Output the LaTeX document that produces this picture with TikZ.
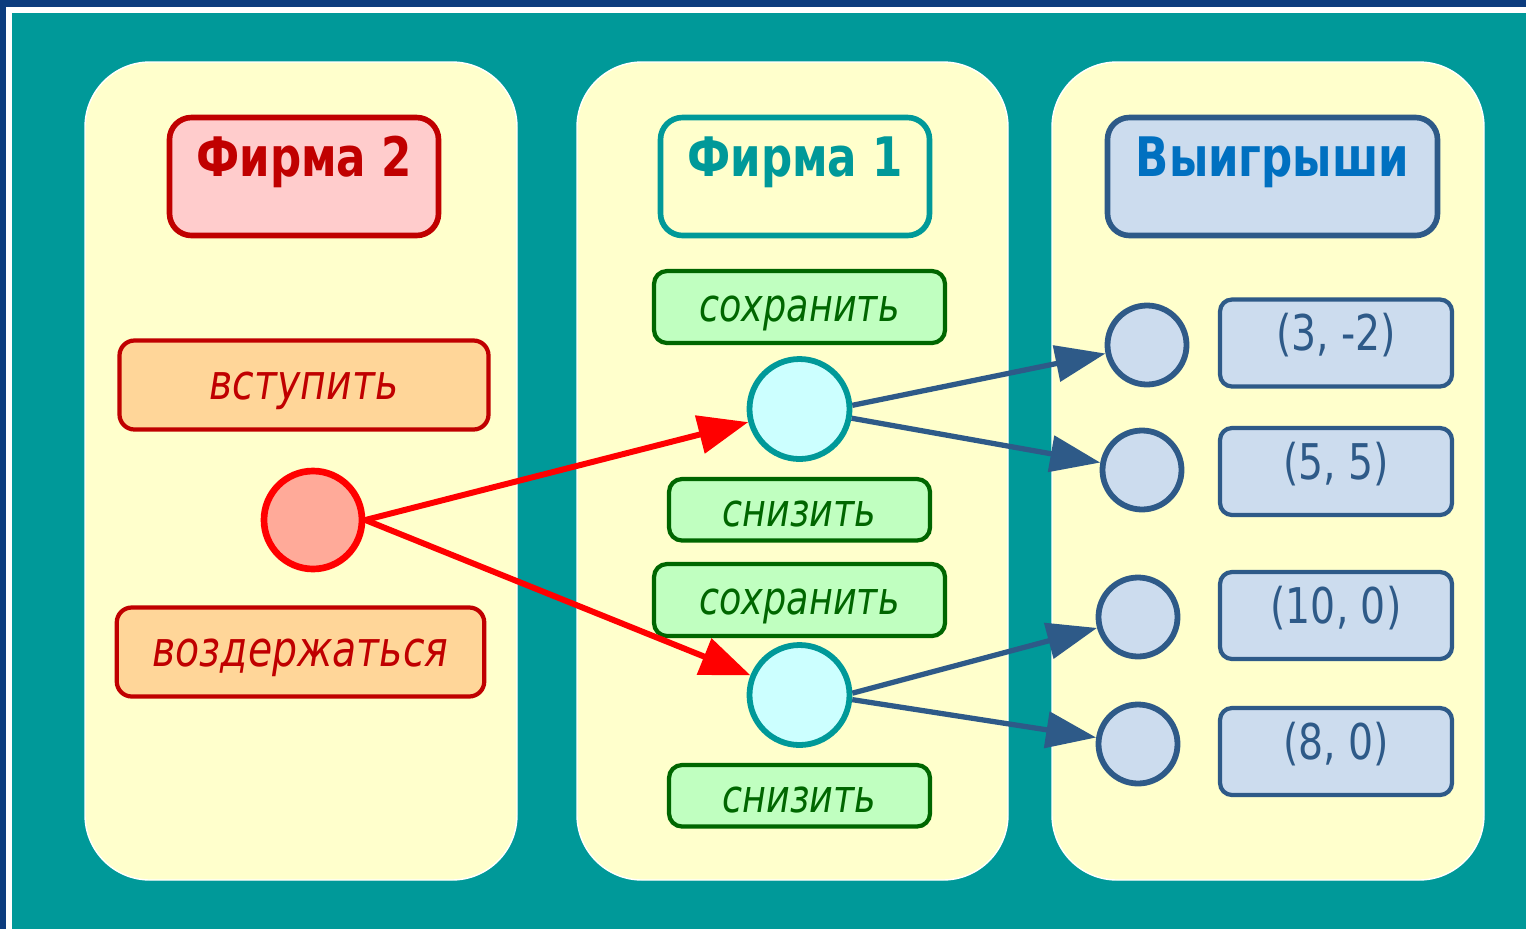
\documentclass[tikz,border=0pt]{standalone}
\usepackage{fontspec}
\setmainfont{DejaVu Sans}[FakeStretch=0.8]
\usetikzlibrary{positioning, arrows.meta}

\definecolor{navy}{HTML}{0C3C7E}
\definecolor{sea}{HTML}{009999}
\definecolor{cream}{HTML}{FFFFCC}
\definecolor{brick}{HTML}{C00000}
\definecolor{rose}{HTML}{FFCCCC}
\definecolor{apricot}{HTML}{FFD699}
\definecolor{salmon}{HTML}{FFAA99}
\definecolor{mint}{HTML}{C0FFC0}
\definecolor{forest}{HTML}{006600}
\definecolor{ice}{HTML}{CCFFFF}
\definecolor{steel}{HTML}{2E5A88}
\definecolor{mist}{HTML}{CCDCEE}
\definecolor{azure}{HTML}{0070C0}

\begin{document}
\begin{tikzpicture}[x=0.2mm, y=-0.2mm]
    \tikzset{
      panel/.style={fill=cream, draw=white, line width=0.8pt, rounded corners=13mm},
      title/.style={draw, rectangle, rounded corners=4.4mm, line width=3.2pt,
        minimum width=53.8mm, minimum height=23.6mm, inner sep=0pt,
        text height=0pt, text depth=0pt, font=\bfseries\fontsize{31}{34}\selectfont},
      rival/.style={draw=brick, fill=apricot, text=brick, rectangle, rounded corners=3mm,
        line width=2.4pt, minimum width=73.8mm, minimum height=17.8mm, inner sep=0pt,
        text height=5.6mm, text depth=0pt, font=\itshape\fontsize{28}{32}\selectfont},
      choice/.style={draw=forest, fill=mint, text=forest, rectangle, rounded corners=2.6mm,
        line width=2.4pt, minimum width=58.2mm, minimum height=14.4mm, inner sep=0pt,
        text height=5.6mm, text depth=0pt, font=\itshape\fontsize{26}{30}\selectfont},
      lower/.style={choice, minimum width=52.2mm, minimum height=12.3mm, text height=6.8mm},
      payoff/.style={draw=steel, fill=mist, text=steel, rectangle, rounded corners=2.4mm,
        line width=2.4pt, minimum width=46.4mm, minimum height=17.4mm, inner sep=0pt,
        text height=3mm, text depth=0pt, font=\fontsize{28}{32}\selectfont},
      root/.style={draw=red, fill=salmon, circle, line width=3.8pt, minimum size=19.6mm, inner sep=0pt},
      hub/.style={draw=sea, fill=ice, circle, line width=3.3pt, minimum size=20mm, inner sep=0pt},
      outcome/.style={draw=steel, fill=mist, circle, line width=3.3pt, minimum size=15.8mm, inner sep=0pt},
      entry/.style={draw=red, line width=3.4pt, -{Triangle[length=10mm, width=7.6mm]}},
      reply/.style={draw=steel, line width=3pt, -{Triangle[length=10mm, width=7.2mm]}}
    }
    \useasboundingbox (0,0) rectangle (1526,929);

    % backdrop and the three columns
    \fill[navy] (0,0) rectangle (1526,929);
    \fill[white] (6,7) rectangle (1526,929);
    \fill[sea] (12,13) rectangle (1526,929);
    \draw[panel] (85,62) rectangle (517,880);
    \draw[panel] (577,62) rectangle (1008,880);
    \draw[panel] (1052,62) rectangle (1484,880);

    % column headings
    \node[title, draw=brick, fill=rose, text=brick] (firm2) at (304,176.5) {Фирма 2};
    \node[title, draw=sea, fill=cream, text=sea]    (firm1) at (795,176.5) {Фирма 1};
    \node[title, draw=steel, fill=mist, text=azure, minimum width=66mm] (wins) at (1272.5,176.5) {Выигрыши};

    % entrant
    \node[rival] (enter) at (304,385) {вступить};
    \node[root]  (start) at (313,520) {};
    \node[rival, minimum width=73.5mm] (stay) at (300.5,652) {воздержаться};

    % incumbent
    \node[choice] (keep1) at (799.5,307) {сохранить};
    \node[hub, below=2.2mm of keep1] (c1) {};
    \node[lower, below=3mm of c1] (cut1) {снизить};
    \node[choice] (keep2) at (799.5,600) {сохранить};
    \node[hub, below=0.8mm of keep2] (c2) {};
    \node[lower, below=3mm of c2] (cut2) {снизить};

    % outcomes
    \node[outcome] (end1) at (1147,345) {};
    \node[outcome] (end2) at (1142,470) {};
    \node[outcome] (end3) at (1138,617) {};
    \node[outcome] (end4) at (1138,744) {};
    \node[payoff] (pay1) at (1336,343)   {(3, -2)};
    \node[payoff] (pay2) at (1336,471.5) {(5, 5)};
    \node[payoff] (pay3) at (1336,615.5) {(10, 0)};
    \node[payoff] (pay4) at (1336,751.5) {(8, 0)};

    \draw[entry] (start.east) -- (c1);
    \draw[entry] (start.east) -- (c2);
    \draw[reply] (c1.4)   -- (end1);
    \draw[reply] (c1.-10) -- (end2);
    \draw[reply] (c2.2)   -- (end3);
    \draw[reply] (c2.-5)  -- (end4);
\end{tikzpicture}
\end{document}
